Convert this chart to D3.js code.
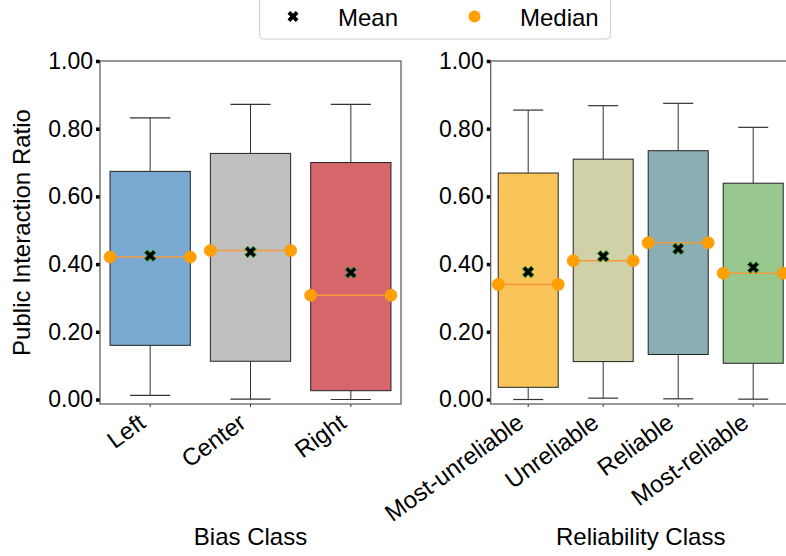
<!DOCTYPE html>
<html><head><meta charset="utf-8">
<script src="https://cdn.jsdelivr.net/npm/d3@7"></script>
<style>body{margin:0;background:#fff}svg{display:block;font-family:"Liberation Sans",Arial,sans-serif}</style>
</head><body><svg id="c" width="786" height="556"></svg>
<script>
// ---- data ----
const biasCategories = ["Left", "Center", "Right"];
const biasWhiskerLow = [0.012, 0.001, 0.0];
const biasQ1 = [0.160, 0.113, 0.026];
const biasMedian = [0.421, 0.440, 0.308];
const biasQ3 = [0.674, 0.727, 0.700];
const biasWhiskerHigh = [0.832, 0.872, 0.872];
const biasMean = [0.425, 0.436, 0.375];
const biasColors = ["#79a9d1", "#bfbfbf", "#d7666c"];

const relCategories = ["Most-unreliable", "Unreliable", "Reliable", "Most-reliable"];
const relWhiskerLow = [0.0, 0.004, 0.002, 0.001];
const relQ1 = [0.036, 0.112, 0.133, 0.107];
const relMedian = [0.340, 0.410, 0.463, 0.373];
const relQ3 = [0.669, 0.710, 0.735, 0.639];
const relWhiskerHigh = [0.855, 0.868, 0.875, 0.804];
const relMean = [0.377, 0.423, 0.445, 0.390];
const relColors = ["#f9c45a", "#d0d1a7", "#89afb5", "#99c88f"];

const yTicks = [0, 0.2, 0.4, 0.6, 0.8, 1.0];

// ---- drawing ----
const svg = d3.select("#c");
const plotTop = 61, plotBottom = 404;
const y = d3.scaleLinear().domain([-0.0133, 1.0]).range([plotBottom, plotTop]);

const xPath = (s) => {
  const pts = [[-0.25,-0.5],[0,-0.25],[0.25,-0.5],[0.5,-0.25],[0.25,0],[0.5,0.25],[0.25,0.5],[0,0.25],[-0.25,0.5],[-0.5,0.25],[-0.25,0],[-0.5,-0.25]];
  return "M" + pts.map(p => (p[0]*s) + "," + (p[1]*s)).join("L") + "Z";
};

function panel(x0, x1, cats, lo, q1, med, q3, hi, mean, colors, xlabel) {
  const g = svg.append("g");
  const x = d3.scaleBand().domain(cats).range([x0, x1]).paddingInner(0).paddingOuter(0);
  const bw = x.bandwidth() * 0.8;
  const cx = (d) => x(d) + x.bandwidth() / 2;

  const ya = g.append("g").attr("transform", `translate(${x0},0)`)
    .call(d3.axisLeft(y).tickValues(yTicks).tickFormat(d3.format(".2f")).tickSize(4).tickPadding(3));
  ya.select(".domain").remove();
  ya.selectAll(".tick line").attr("stroke", "#000").attr("stroke-width", 3.5);
  ya.selectAll(".tick text").attr("font-size", 23).attr("fill", "#000").attr("font-family", '"Liberation Sans",Arial,sans-serif');

  const xa = g.append("g").attr("transform", `translate(0,${plotBottom})`)
    .call(d3.axisBottom(x).tickSize(3).tickPadding(0).tickFormat(""));
  xa.select(".domain").remove();
  xa.selectAll(".tick line").attr("stroke", "#333").attr("stroke-width", 1);
  g.selectAll(".xl").data(cats).join("text").attr("class", "xl")
    .attr("transform", d => `translate(${cx(d) - 3},${plotBottom + 22}) rotate(-36)`)
    .attr("text-anchor", "end").attr("font-size", 24).attr("fill", "#000").text(d => d);

  cats.forEach((c, i) => {
    const m = cx(c);
    g.append("line").attr("x1", m).attr("x2", m).attr("y1", y(hi[i])).attr("y2", y(q3[i])).attr("stroke", "#333").attr("stroke-width", 1);
    g.append("line").attr("x1", m).attr("x2", m).attr("y1", y(q1[i])).attr("y2", y(lo[i])).attr("stroke", "#333").attr("stroke-width", 1);
    g.append("line").attr("x1", m - bw/4).attr("x2", m + bw/4).attr("y1", y(hi[i])).attr("y2", y(hi[i])).attr("stroke", "#333").attr("stroke-width", 1.2);
    g.append("line").attr("x1", m - bw/4).attr("x2", m + bw/4).attr("y1", y(lo[i])).attr("y2", y(lo[i])).attr("stroke", "#333").attr("stroke-width", 1.2);
    g.append("rect").attr("x", m - bw/2).attr("y", y(q3[i])).attr("width", bw).attr("height", y(q1[i]) - y(q3[i]))
      .attr("fill", colors[i]).attr("stroke", "#222").attr("stroke-width", 1);
    g.append("line").attr("x1", m - bw/2).attr("x2", m + bw/2).attr("y1", y(med[i])).attr("y2", y(med[i]))
      .attr("stroke", "#f59a3a").attr("stroke-width", 1.6);
    [m - bw/2, m + bw/2].forEach(px => {
      g.append("circle").attr("cx", px).attr("cy", y(med[i])).attr("r", 6)
        .attr("fill", "#ffa000").attr("stroke", "#f39c12").attr("stroke-width", 0.8);
    });
    g.append("path").attr("d", xPath(11.5)).attr("transform", `translate(${m},${y(mean[i])})`)
      .attr("fill", "#000").attr("stroke", "#2ca02c").attr("stroke-width", 1);
  });

  g.append("rect").attr("x", x0).attr("y", plotTop).attr("width", x1 - x0).attr("height", plotBottom - plotTop)
    .attr("fill", "none").attr("stroke", "#555").attr("stroke-width", 1.2);

  g.append("text").attr("x", (x0 + x1) / 2).attr("y", 545).attr("text-anchor", "middle")
    .attr("font-size", 24).attr("fill", "#000").text(xlabel);
}

panel(100, 401, biasCategories, biasWhiskerLow, biasQ1, biasMedian, biasQ3, biasWhiskerHigh, biasMean, biasColors, "Bias Class");
panel(490.7, 790.7, relCategories, relWhiskerLow, relQ1, relMedian, relQ3, relWhiskerHigh, relMean, relColors, "Reliability Class");

svg.append("text").attr("transform", `translate(30,${(plotTop + plotBottom) / 2}) rotate(-90)`)
  .attr("text-anchor", "middle").attr("font-size", 24).attr("fill", "#000").text("Public Interaction Ratio");

const lg = svg.append("g");
lg.append("rect").attr("x", 259.5).attr("y", -6).attr("width", 351).attr("height", 45).attr("rx", 4)
  .attr("fill", "#fff").attr("stroke", "#ccc").attr("stroke-width", 1);
lg.append("path").attr("d", xPath(11)).attr("transform", "translate(293,16.5)").attr("fill", "#000");
lg.append("text").attr("x", 338).attr("y", 25.5).attr("font-size", 24).attr("fill", "#000").text("Mean");
lg.append("circle").attr("cx", 474.5).attr("cy", 16.5).attr("r", 6).attr("fill", "#ffa000");
lg.append("text").attr("x", 520).attr("y", 25.5).attr("font-size", 24).attr("fill", "#000").text("Median");
</script></body></html>
